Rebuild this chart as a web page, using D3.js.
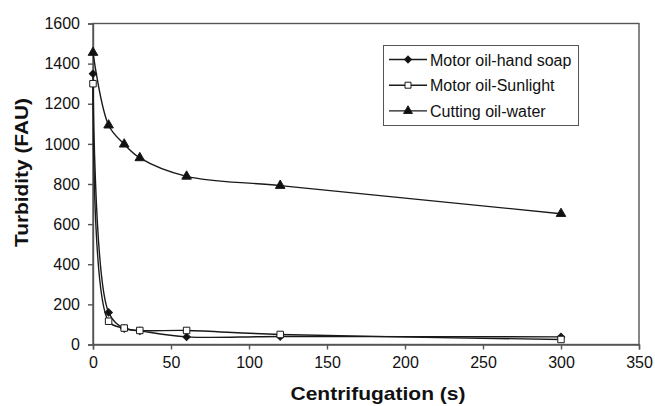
<!DOCTYPE html>
<html><head><meta charset="utf-8">
<script src="https://cdn.jsdelivr.net/npm/d3@7"></script>
<style>body{margin:0;background:#fff;} svg{display:block;font-family:"Liberation Sans",Arial,sans-serif;}</style>
</head><body>
<script>
const times = [0, 10, 20, 30, 60, 120, 300];
const handSoap = [1350, 160, 80, 68, 38, 40, 38];
const sunlight = [1300, 116, 82, 70, 70, 50, 25];
const cuttingOil = [1455, 1093, 998, 930, 838, 792, 652];
const seriesNames = ["Motor oil-hand soap", "Motor oil-Sunlight", "Cutting oil-water"];
const xTicks = [0, 50, 100, 150, 200, 250, 300, 350];
const yTicks = [0, 200, 400, 600, 800, 1000, 1200, 1400, 1600];

const W = 655, H = 406;
const svg = d3.select("body").append("svg").attr("width", W).attr("height", H);
const x = d3.scaleLinear().domain([0, 350]).range([93, 639]);
const y = d3.scaleLinear().domain([0, 1600]).range([344.5, 23.5]);

// frame
svg.append("rect").attr("x", 93).attr("y", 23.5).attr("width", 546).attr("height", 321)
  .attr("fill", "none").attr("stroke", "#555").attr("stroke-width", 1.4);

const xAxis = svg.append("g").attr("transform", "translate(0,344.5)")
  .call(d3.axisBottom(x).tickValues(xTicks).tickSize(5).tickPadding(7).tickFormat(d3.format("d")));
const yAxis = svg.append("g").attr("transform", "translate(93,0)")
  .call(d3.axisLeft(y).tickValues(yTicks).tickSize(5).tickPadding(8).tickFormat(d3.format("d")));
[xAxis, yAxis].forEach(a => {
  a.select(".domain").attr("stroke", "#555").attr("stroke-width", 1.4);
  a.selectAll(".tick line").attr("stroke", "#555").attr("stroke-width", 1.4);
  a.selectAll("text").attr("font-size", 16).attr("fill", "#111").attr("font-family", "Liberation Sans, Arial, sans-serif");
});

svg.append("text").attr("x", 378).attr("y", 400).attr("text-anchor", "middle")
  .attr("font-size", 18.5).attr("font-weight", "bold").attr("fill", "#111")
  .attr("textLength", 175).attr("lengthAdjust", "spacingAndGlyphs").text("Centrifugation (s)");
svg.append("text").attr("transform", "translate(28,172.5) rotate(-90)").attr("text-anchor", "middle")
  .attr("font-size", 18.5).attr("font-weight", "bold").attr("fill", "#111")
  .attr("textLength", 149).attr("lengthAdjust", "spacingAndGlyphs").text("Turbidity (FAU)");

const line = d3.line().x(d => x(d[0])).y(d => y(d[1])).curve(d3.curveCatmullRom.alpha(0.5));
const allSeries = [handSoap, sunlight, cuttingOil];
const sym = [d3.symbolSquare, d3.symbolSquare, d3.symbolTriangle];
const symSize = [28, 42, 40];
const rot = [45, 0, 0];
const fills = ["#111", "#fff", "#111"];

allSeries.forEach((vals, i) => {
  const pts = times.map((t, j) => [t, vals[j]]);
  svg.append("path").datum(pts).attr("d", line).attr("fill", "none")
    .attr("stroke", "#1a1a1a").attr("stroke-width", 1.4);
});
allSeries.forEach((vals, i) => {
  const pts = times.map((t, j) => [t, vals[j]]);
  svg.append("g").selectAll("path").data(pts).join("path")
    .attr("d", d3.symbol().type(sym[i]).size(symSize[i]))
    .attr("transform", d => `translate(${x(d[0])},${y(d[1])}) rotate(${rot[i]})`)
    .attr("fill", fills[i]).attr("stroke", "#1a1a1a").attr("stroke-width", 1);
});

// legend
const lg = svg.append("g");
lg.append("rect").attr("x", 383.5).attr("y", 45.5).attr("width", 195).attr("height", 80)
  .attr("fill", "#fff").attr("stroke", "#555").attr("stroke-width", 1);
seriesNames.forEach((n, i) => {
  const ly = 59.5 + i * 25.7;
  lg.append("line").attr("x1", 389).attr("x2", 427).attr("y1", ly).attr("y2", ly)
    .attr("stroke", "#1a1a1a").attr("stroke-width", 1.4);
  lg.append("path").attr("d", d3.symbol().type(sym[i]).size(symSize[i] * 0.85))
    .attr("transform", `translate(408,${ly}) rotate(${rot[i]})`).attr("fill", fills[i]).attr("stroke", "#1a1a1a");
  lg.append("text").attr("x", 430).attr("y", ly + 6).attr("font-size", 16).attr("fill", "#111").text(n);
});
</script>
</body></html>
